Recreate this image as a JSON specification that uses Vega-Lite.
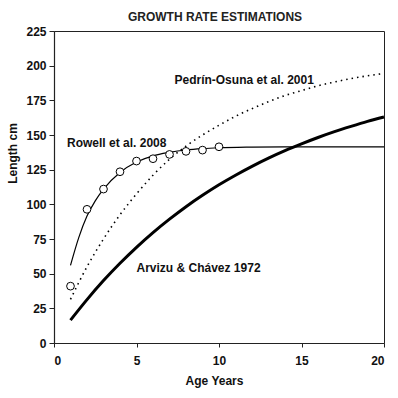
{
  "$schema": "https://vega.github.io/schema/vega-lite/v6.json",
  "width": 330,
  "height": 312,
  "autosize": {"type": "none"},
  "padding": {"left": 54, "top": 31, "right": 14, "bottom": 55},
  "background": "white",
  "title": {
    "text": "GROWTH RATE ESTIMATIONS",
    "font": "Liberation Sans",
    "fontSize": 12,
    "fontWeight": "bold",
    "anchor": "middle",
    "offset": 1,
    "dx": -4,
    "color": "#222"
  },
  "datasets": {
    "curves": [
      {"series": "Arvizu", "t": 1, "L": 16.5},
      {"series": "Arvizu", "t": 2, "L": 31.3},
      {"series": "Arvizu", "t": 3, "L": 45.0},
      {"series": "Arvizu", "t": 4, "L": 57.5},
      {"series": "Arvizu", "t": 5, "L": 69.0},
      {"series": "Arvizu", "t": 6, "L": 79.6},
      {"series": "Arvizu", "t": 7, "L": 89.3},
      {"series": "Arvizu", "t": 8, "L": 98.3},
      {"series": "Arvizu", "t": 9, "L": 106.5},
      {"series": "Arvizu", "t": 10, "L": 114.1},
      {"series": "Arvizu", "t": 11, "L": 121.0},
      {"series": "Arvizu", "t": 12, "L": 127.4},
      {"series": "Arvizu", "t": 13, "L": 133.3},
      {"series": "Arvizu", "t": 14, "L": 138.7},
      {"series": "Arvizu", "t": 15, "L": 143.6},
      {"series": "Arvizu", "t": 16, "L": 148.2},
      {"series": "Arvizu", "t": 17, "L": 152.4},
      {"series": "Arvizu", "t": 18, "L": 156.2},
      {"series": "Arvizu", "t": 19, "L": 159.8},
      {"series": "Arvizu", "t": 20, "L": 163.0},
      {"series": "Pedrin", "t": 1, "L": 31.5},
      {"series": "Pedrin", "t": 2, "L": 55},
      {"series": "Pedrin", "t": 3, "L": 75},
      {"series": "Pedrin", "t": 4, "L": 92.5},
      {"series": "Pedrin", "t": 5, "L": 107.5},
      {"series": "Pedrin", "t": 6, "L": 121},
      {"series": "Pedrin", "t": 7, "L": 132.5},
      {"series": "Pedrin", "t": 8, "L": 142},
      {"series": "Pedrin", "t": 9, "L": 150},
      {"series": "Pedrin", "t": 10, "L": 157},
      {"series": "Pedrin", "t": 11, "L": 163.5},
      {"series": "Pedrin", "t": 12, "L": 169},
      {"series": "Pedrin", "t": 13, "L": 174},
      {"series": "Pedrin", "t": 14, "L": 178.5},
      {"series": "Pedrin", "t": 15, "L": 182},
      {"series": "Pedrin", "t": 16, "L": 185.5},
      {"series": "Pedrin", "t": 17, "L": 188.2},
      {"series": "Pedrin", "t": 18, "L": 190.7},
      {"series": "Pedrin", "t": 19, "L": 192.7},
      {"series": "Pedrin", "t": 20, "L": 194.4},
      {"series": "Rowell", "t": 1, "L": 56},
      {"series": "Rowell", "t": 1.5, "L": 76},
      {"series": "Rowell", "t": 2, "L": 91.5},
      {"series": "Rowell", "t": 2.5, "L": 102.5},
      {"series": "Rowell", "t": 3, "L": 111},
      {"series": "Rowell", "t": 4, "L": 123},
      {"series": "Rowell", "t": 5, "L": 130.5},
      {"series": "Rowell", "t": 6, "L": 135},
      {"series": "Rowell", "t": 7, "L": 137.5},
      {"series": "Rowell", "t": 8, "L": 139.2},
      {"series": "Rowell", "t": 9, "L": 140.2},
      {"series": "Rowell", "t": 10, "L": 140.8},
      {"series": "Rowell", "t": 12, "L": 141.3},
      {"series": "Rowell", "t": 14, "L": 141.5},
      {"series": "Rowell", "t": 20, "L": 141.5}
    ],
    "observed": [
      {"t": 1, "L": 41},
      {"t": 2, "L": 96.4},
      {"t": 3, "L": 111},
      {"t": 4, "L": 123.5},
      {"t": 5, "L": 131.2},
      {"t": 6, "L": 132.9},
      {"t": 7, "L": 136},
      {"t": 8, "L": 138.2},
      {"t": 9, "L": 139.1},
      {"t": 10, "L": 141.5}
    ],
    "labels": [
      {"label": "Pedrín-Osuna et al. 2001", "t": 7.3, "L": 189.6},
      {"label": "Rowell et al. 2008", "t": 0.79, "L": 144.4},
      {"label": "Arvizu & Chávez 1972", "t": 5.0, "L": 53.9}
    ]
  },
  "encoding": {
    "x": {"field": "t", "type": "quantitative", "scale": {"domain": [0, 20], "nice": false, "zero": false},
      "axis": {"title": "Age Years", "values": [0, 5, 10, 15, 20], "tickSize": 4, "labelPadding": 8, "titleX": 160, "titleY": 32, "labelOverlap": false}},
    "y": {"field": "L", "type": "quantitative", "scale": {"domain": [0, 225], "nice": false, "zero": false},
      "axis": {"title": "Length cm", "values": [0, 25, 50, 75, 100, 125, 150, 175, 200, 225], "tickSize": 5, "labelPadding": 3, "titleX": -35, "titleY": 122, "labelOverlap": false, "labelFlush": false, "labelBound": false}}
  },
  "layer": [
    {
      "data": {"name": "curves"},
      "transform": [{"filter": "datum.series === 'Arvizu'"}],
      "mark": {"type": "line", "color": "black", "strokeWidth": 3, "interpolate": "monotone"}
    },
    {
      "data": {"name": "curves"},
      "transform": [{"filter": "datum.series === 'Pedrin'"}],
      "mark": {"type": "line", "color": "black", "strokeWidth": 1.6, "strokeDash": [1.5, 4], "interpolate": "monotone"}
    },
    {
      "data": {"name": "curves"},
      "transform": [{"filter": "datum.series === 'Rowell'"}],
      "mark": {"type": "line", "color": "black", "strokeWidth": 1.2, "interpolate": "monotone"}
    },
    {
      "data": {"name": "observed"},
      "mark": {"type": "point", "shape": "circle", "filled": true, "fill": "white", "stroke": "black", "strokeWidth": 1, "size": 60, "opacity": 1}
    },
    {
      "data": {"name": "labels"},
      "mark": {"type": "text", "align": "left", "baseline": "middle", "font": "Liberation Sans", "fontSize": 12, "fontWeight": "bold", "color": "#111"},
      "encoding": {
        "text": {"field": "label"}
      }
    }
  ],
  "config": {
    "view": {"stroke": "#222", "strokeWidth": 1},
    "axis": {
      "grid": false,
      "domainColor": "#222",
      "domainWidth": 1.2,
      "tickColor": "#222",
      "tickWidth": 1,
      "labelFont": "Liberation Sans",
      "labelFontSize": 12,
      "labelFontWeight": "bold",
      "labelColor": "#111",
      "titleFont": "Liberation Sans",
      "titleFontSize": 12,
      "titleFontWeight": "bold",
      "titleColor": "#111"
    }
  }
}
